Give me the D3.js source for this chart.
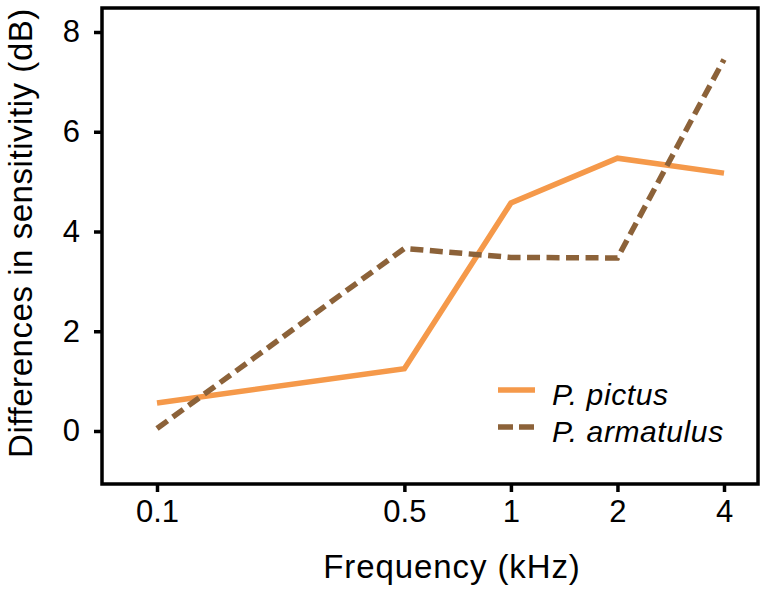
<!DOCTYPE html>
<html><head><meta charset="utf-8">
<script src="https://cdn.jsdelivr.net/npm/d3@7"></script>
<style>body{margin:0;background:#fff}svg{display:block}text{font-family:"Liberation Sans",Arial,Helvetica,sans-serif}</style>
</head><body><svg id="c" width="767" height="597"></svg>
<script>
const freqs = [0.1, 0.5, 1, 2, 4];
const tickLabels = ["0.1", "0.5", "1", "2", "4"];
const yTicks = [0, 2, 4, 6, 8];
const pictus = [0.56, 1.25, 4.57, 5.47, 5.17];
const armatulus = [0.05, 3.66, 3.48, 3.47, 7.45];
const seriesNames = ["P. pictus", "P. armatulus"];
const colors = ["#F5994A", "#8C6239"];

const svg = d3.select("#c");
const frame = {l: 102, r: 758, t: 8, b: 484};
const x = d3.scaleLog().domain([0.1, 4]).range([157, 724]);
const y = d3.scaleLinear().domain([0, 8]).range([431, 32]);

// lines
const line = d3.line().x((d, i) => x(freqs[i])).y(d => y(d));
svg.append("path").datum(pictus).attr("d", line).attr("fill", "none")
  .attr("stroke", colors[0]).attr("stroke-width", 5.5).attr("stroke-linejoin", "miter");
svg.append("path").datum(armatulus).attr("d", line).attr("fill", "none")
  .attr("stroke", colors[1]).attr("stroke-width", 5.5).attr("stroke-dasharray", "13,6.5");

// frame
svg.append("rect").attr("x", frame.l).attr("y", frame.t)
  .attr("width", frame.r - frame.l).attr("height", frame.b - frame.t)
  .attr("fill", "none").attr("stroke", "#000").attr("stroke-width", 3.5);

// y axis
const yAxis = d3.axisLeft(y).tickValues(yTicks).tickSize(8).tickPadding(14).tickFormat(d3.format("d"));
const gy = svg.append("g").attr("transform", `translate(${frame.l},0)`).call(yAxis);
gy.select(".domain").remove();
gy.selectAll(".tick line").attr("stroke-width", 3.5);
gy.selectAll(".tick text").attr("font-size", 31).attr("fill", "#000").attr("font-family", "Liberation Sans, Arial, sans-serif");

// x axis
const xAxis = d3.axisBottom(x).tickValues(freqs).tickSize(8).tickPadding(8).tickFormat((d, i) => tickLabels[i]);
const gx = svg.append("g").attr("transform", `translate(0,${frame.b})`).call(xAxis);
gx.select(".domain").remove();
gx.selectAll(".tick line").attr("stroke-width", 3.5);
gx.selectAll(".tick text").attr("font-size", 31).attr("fill", "#000").attr("font-family", "Liberation Sans, Arial, sans-serif");

// titles
svg.append("text").attr("x", 452).attr("y", 578).attr("text-anchor", "middle")
  .attr("font-size", 33).attr("letter-spacing", 0.9).text("Frequency (kHz)");
svg.append("text").attr("transform", "translate(32,233) rotate(-90)").attr("text-anchor", "middle")
  .attr("font-size", 33).attr("letter-spacing", 0.55).text("Differences in sensitivitiy (dB)");

// legend
const leg = svg.append("g");
const legY = [390, 427];
seriesNames.forEach((name, i) => {
  leg.append("line").attr("x1", 498).attr("x2", 535).attr("y1", legY[i]).attr("y2", legY[i])
    .attr("stroke", colors[i]).attr("stroke-width", 5.5)
    .attr("stroke-dasharray", i === 1 ? "15,6" : null);
  leg.append("text").attr("x", 552).attr("y", legY[i] + 15).attr("font-size", 30)
    .attr("letter-spacing", 0.6).attr("font-style", "italic").text(name);
});
</script></body></html>
